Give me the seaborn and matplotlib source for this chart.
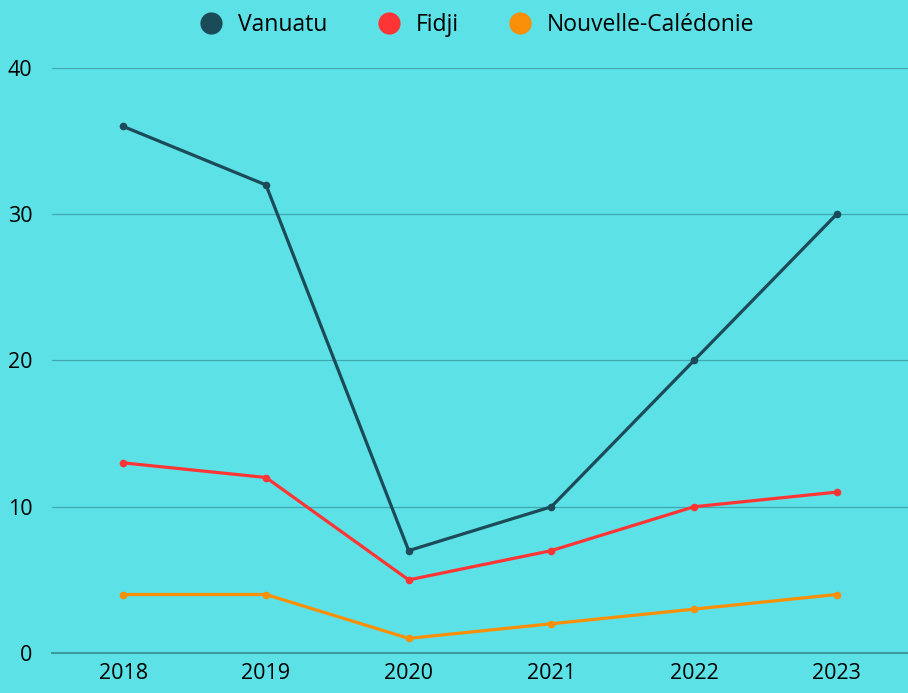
import matplotlib
matplotlib.use("Agg")
import matplotlib.pyplot as plt
from matplotlib.lines import Line2D
import seaborn as sns
import pandas as pd

years = ["2018", "2019", "2020", "2021", "2022", "2023"]
vanuatu = [36, 32, 7, 10, 20, 30]
fidji = [13, 12, 5, 7, 10, 11]
nouvelle_caledonie = [4, 4, 1, 2, 3, 4]

series = ["Vanuatu", "Fidji", "Nouvelle-Calédonie"]
colors = ["#1b4b58", "#ff3535", "#f98f06"]
bg = "#5ce1e6"

df = pd.DataFrame({
    "year": years * 3,
    "value": vanuatu + fidji + nouvelle_caledonie,
    "pays": [s for s in series for _ in years],
})

sns.set_theme(style="white")
plt.rcParams["font.family"] = ["Open Sans", "DejaVu Sans"]
plt.rcParams["text.color"] = "#000000"

fig = plt.figure(figsize=(9.08, 6.93), dpi=100, facecolor=bg)
ax = fig.add_axes([0.0573, 0.0577, 0.9427, 0.8442])
ax.set_facecolor(bg)

sns.lineplot(data=df, x="year", y="value", hue="pays", palette=colors,
             marker="o", markersize=5.5, markeredgewidth=0, linewidth=2.3,
             legend=False, ax=ax, sort=False)

ax.set_xlim(-0.5, 5.5)
ax.set_ylim(0, 40)
ax.set_yticks([0, 10, 20, 30, 40])
ax.set_xlabel("")
ax.set_ylabel("")
for y in [10, 20, 30, 40]:
    ax.axhline(y, color="#3fa9b1", linewidth=0.9, zorder=0)
for s in ["top", "right", "left"]:
    ax.spines[s].set_visible(False)
ax.spines["bottom"].set_color("#3c9ca2")
ax.spines["bottom"].set_linewidth(1.5)
ax.tick_params(axis="both", length=0, labelsize=15.5, colors="#000000")
ax.tick_params(axis="y", pad=14)
ax.tick_params(axis="x", pad=7)

handles = [Line2D([], [], marker="o", linestyle="", markersize=16,
                  markerfacecolor=c, markeredgewidth=0) for c in colors]
fig.legend(handles, series, loc="upper center", bbox_to_anchor=(0.519, 1.008),
           ncol=3, frameon=False, fontsize=16.5, handletextpad=0.15,
           columnspacing=1.7, borderaxespad=0.4, labelcolor="#000000")

fig.savefig("out.png", dpi=100, facecolor=bg)
